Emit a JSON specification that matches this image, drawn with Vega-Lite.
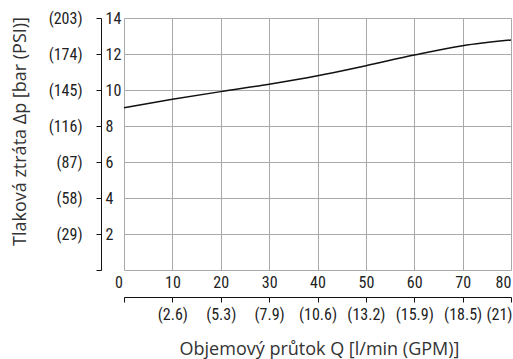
{
  "$schema": "https://vega.github.io/schema/vega-lite/v6.json",
  "width": 387,
  "height": 252,
  "autosize": "none",
  "padding": {"left": 124, "top": 18, "right": 2, "bottom": 89},
  "background": "white",
  "config": {
    "view": {"stroke": null},
    "axis": {
      "labelFont": "Liberation Sans Narrow, Roboto Condensed, DejaVu Sans Condensed, sans-serif",
      "labelFontSize": 16,
      "labelColor": "#222222",
      "labelOverlap": false,
      "labelBound": false,
      "labelFlush": false,
      "titleFont": "Open Sans, Noto Sans, sans-serif",
      "titleFontSize": 18,
      "titleFontWeight": "normal",
      "titleColor": "#333333",
      "gridColor": "#aaaaaa",
      "gridOpacity": 1,
      "gridWidth": 1,
      "domainColor": "#111111",
      "tickColor": "#111111"
    }
  },
  "data": {
    "values": [
      {"Q": 0, "dp": 9.02},
      {"Q": 10, "dp": 9.48},
      {"Q": 20, "dp": 9.91},
      {"Q": 30, "dp": 10.32},
      {"Q": 40, "dp": 10.79},
      {"Q": 50, "dp": 11.35},
      {"Q": 60, "dp": 11.94},
      {"Q": 70, "dp": 12.46},
      {"Q": 80, "dp": 12.78}
    ]
  },
  "layer": [
    {
      "mark": {"type": "line", "color": "#111111", "strokeWidth": 1.5, "interpolate": "monotone"},
      "encoding": {
        "x": {
          "field": "Q", "type": "quantitative",
          "scale": {"domain": [0, 80], "nice": false},
          "axis": {
            "orient": "bottom",
            "values": [0, 10, 20, 30, 40, 50, 60, 70, 80],
            "domain": false,
            "ticks": false,
            "tickSize": 0,
            "grid": true,
            "labelFlush": false,
            "labelPadding": 4,
            "labelOffset": {"condition": [{"test": "datum.value == 0", "value": -5.5}, {"test": "datum.value == 80", "value": -8}], "value": 0},
            "title": null
          }
        },
        "y": {
          "field": "dp", "type": "quantitative",
          "scale": {"domain": [0, 14], "nice": false},
          "axis": {
            "orient": "left",
            "offset": 23,
            "values": [0, 2, 4, 6, 8, 10, 12, 14],
            "grid": true,
            "domain": true,
            "ticks": true,
            "tickSize": 5,
            "labelAlign": "left",
            "labelPadding": -9,
            "labelExpr": "datum.value == 0 ? '' : datum.label",
            "title": null
          }
        }
      }
    },
    {
      "mark": {"type": "line", "opacity": 0},
      "encoding": {
        "x": {
          "field": "Q", "type": "quantitative",
          "axis": {
            "orient": "bottom",
            "offset": 27,
            "values": [0, 10, 20, 30, 40, 50, 60, 70, 80],
            "grid": false,
            "domain": true,
            "ticks": true,
            "tickSize": 5,
            "labelFlush": false,
            "labelPadding": 4,
            "labelExpr": "datum.value == 10 ? '(2.6)' : datum.value == 20 ? '(5.3)' : datum.value == 30 ? '(7.9)' : datum.value == 40 ? '(10.6)' : datum.value == 50 ? '(13.2)' : datum.value == 60 ? '(15.9)' : datum.value == 70 ? '(18.5)' : datum.value == 80 ? '(21)' : ''",
            "labelOffset": {"condition": {"test": "datum.value == 80", "value": -12}, "value": 0},
            "title": "Objemový průtok Q [l/min (GPM)]",
            "titleX": 195,
            "titleY": 57,
            "titleAlign": "center",
            "titleBaseline": "alphabetic"
          }
        },
        "y": {
          "field": "dp", "type": "quantitative",
          "axis": {
            "orient": "left",
            "offset": 0,
            "values": [0, 2, 4, 6, 8, 10, 12, 14],
            "grid": false,
            "domain": false,
            "ticks": false,
            "tickSize": 0,
            "labelPadding": 42,
            "labelAlign": "right",
            "labelExpr": "datum.value == 2 ? '(29)' : datum.value == 4 ? '(58)' : datum.value == 6 ? '(87)' : datum.value == 8 ? '(116)' : datum.value == 10 ? '(145)' : datum.value == 12 ? '(174)' : datum.value == 14 ? '(203)' : ''",
            "title": "Tlaková ztráta Δp [bar (PSI)]",
            "titleX": -99,
            "titleY": 113,
            "titleAngle": 270,
            "titleAlign": "center",
            "titleBaseline": "alphabetic"
          }
        }
      }
    }
  ],
  "resolve": {"axis": {"x": "independent", "y": "independent"}}
}
